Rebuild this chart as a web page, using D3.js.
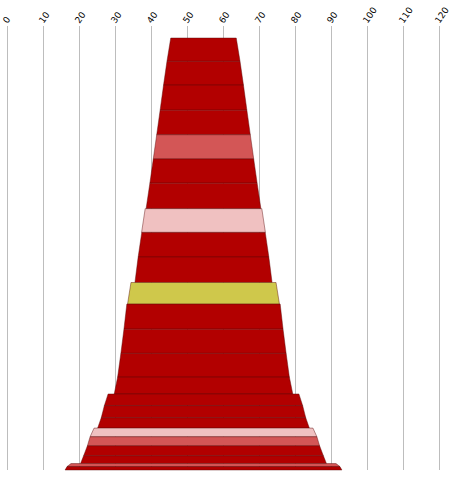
<!DOCTYPE html>
<html>
<head>
<meta charset="utf-8">
<script src="https://cdn.jsdelivr.net/npm/d3@7"></script>
<style>
  body { margin: 0; background: #fff; }
  .tick-label { font-family: "DejaVu Sans", Verdana, sans-serif; font-size: 9px; fill: #000; }
</style>
</head>
<body>
<div id="chart"></div>
<script>
// layer data: depth of top / bottom (0-100), width at top / bottom (axis units), kind
const layerTop    = [0, 5.4, 10.9, 16.7, 22.4, 28.0, 33.6, 39.5, 45.0, 50.7, 56.6, 61.6, 67.4, 73.0, 78.5, 82.4, 85.1, 87.9, 90.3, 92.3, 94.4, 96.7, 98.5, 99.2]
const layerBottom = [5.4, 10.9, 16.7, 22.4, 28.0, 33.6, 39.5, 45.0, 50.7, 56.6, 61.6, 67.4, 73.0, 78.5, 82.4, 85.1, 87.9, 90.3, 92.3, 94.4, 96.7, 98.5, 99.2, 100]
const widthTop    = [18.2, 20.3, 22.2, 24.1, 26.0, 27.9, 29.8, 32.4, 34.3, 36.3, 40.3, 42.6, 44.2, 45.9, 47.7, 53.0, 55.1, 56.8, 60.8, 63.0, 64.5, 66.6, 73.6, 75.8]
const widthBottom = [20.3, 22.2, 24.1, 26.0, 27.9, 29.8, 31.9, 34.4, 36.3, 38.1, 42.2, 44.2, 45.9, 47.7, 49.6, 55.1, 56.8, 58.8, 63.0, 64.5, 66.6, 68.3, 75.8, 76.9]
const layerKind   = ["dark", "dark", "dark", "dark", "light", "dark", "dark", "pale", "dark", "dark", "yellow", "dark",
                     "dark", "dark", "dark", "dark", "dark", "dark", "pale", "light", "dark", "dark", "light", "dark"]
const centerValue = 54.5
const tickValues = d3.range(0, 121, 10)

const dimensions = {
  width: 452,
  height: 477,
  margin: { top: 38, right: 12.7, bottom: 7, left: 7.3 },
  gridTop: 26,
  gridBottom: 470,
}

const kindColor = d3.scaleOrdinal()
  .domain(["dark", "light", "pale", "yellow"])
  .range(["#b20000", "#d35656", "#f0c1c1", "#cfc84b"])

const layers = layerTop.map((t, i) => ({
  top: t,
  bottom: layerBottom[i],
  wTop: widthTop[i],
  wBottom: widthBottom[i],
  kind: layerKind[i],
}))

const svg = d3.select("#chart")
  .append("svg")
    .attr("width", dimensions.width)
    .attr("height", dimensions.height)

const x = d3.scaleLinear()
  .domain([0, 120])
  .range([dimensions.margin.left, dimensions.width - dimensions.margin.right])

const y = d3.scaleLinear()
  .domain([0, 100])
  .range([dimensions.margin.top, dimensions.height - dimensions.margin.bottom])

// gridlines
svg.append("g")
  .selectAll("line")
  .data(tickValues)
  .join("line")
    .attr("x1", d => Math.round(x(d)) + 0.5)
    .attr("x2", d => Math.round(x(d)) + 0.5)
    .attr("y1", dimensions.gridTop)
    .attr("y2", dimensions.gridBottom)
    .attr("stroke", "#bdbdbd")
    .attr("stroke-width", 1)

// rotated tick labels
svg.append("g")
  .selectAll("text")
  .data(tickValues)
  .join("text")
    .attr("class", "tick-label")
    .attr("transform", d => `translate(${Math.round(x(d)) + 0.5},${dimensions.gridTop - 2}) rotate(-55)`)
    .text(d => d)

// layers
const layerPath = d => {
  const yt = y(d.top), yb = y(d.bottom)
  return "M" + x(centerValue - d.wTop / 2) + "," + yt +
         "L" + x(centerValue + d.wTop / 2) + "," + yt +
         "L" + x(centerValue + d.wBottom / 2) + "," + yb +
         "L" + x(centerValue - d.wBottom / 2) + "," + yb + "Z"
}

svg.append("g")
  .selectAll("path")
  .data(layers)
  .join("path")
    .attr("d", layerPath)
    .attr("fill", d => kindColor(d.kind))
    .attr("stroke", "#5a0a0a")
    .attr("stroke-opacity", 0.55)
    .attr("stroke-width", 0.8)
</script>
</body>
</html>
